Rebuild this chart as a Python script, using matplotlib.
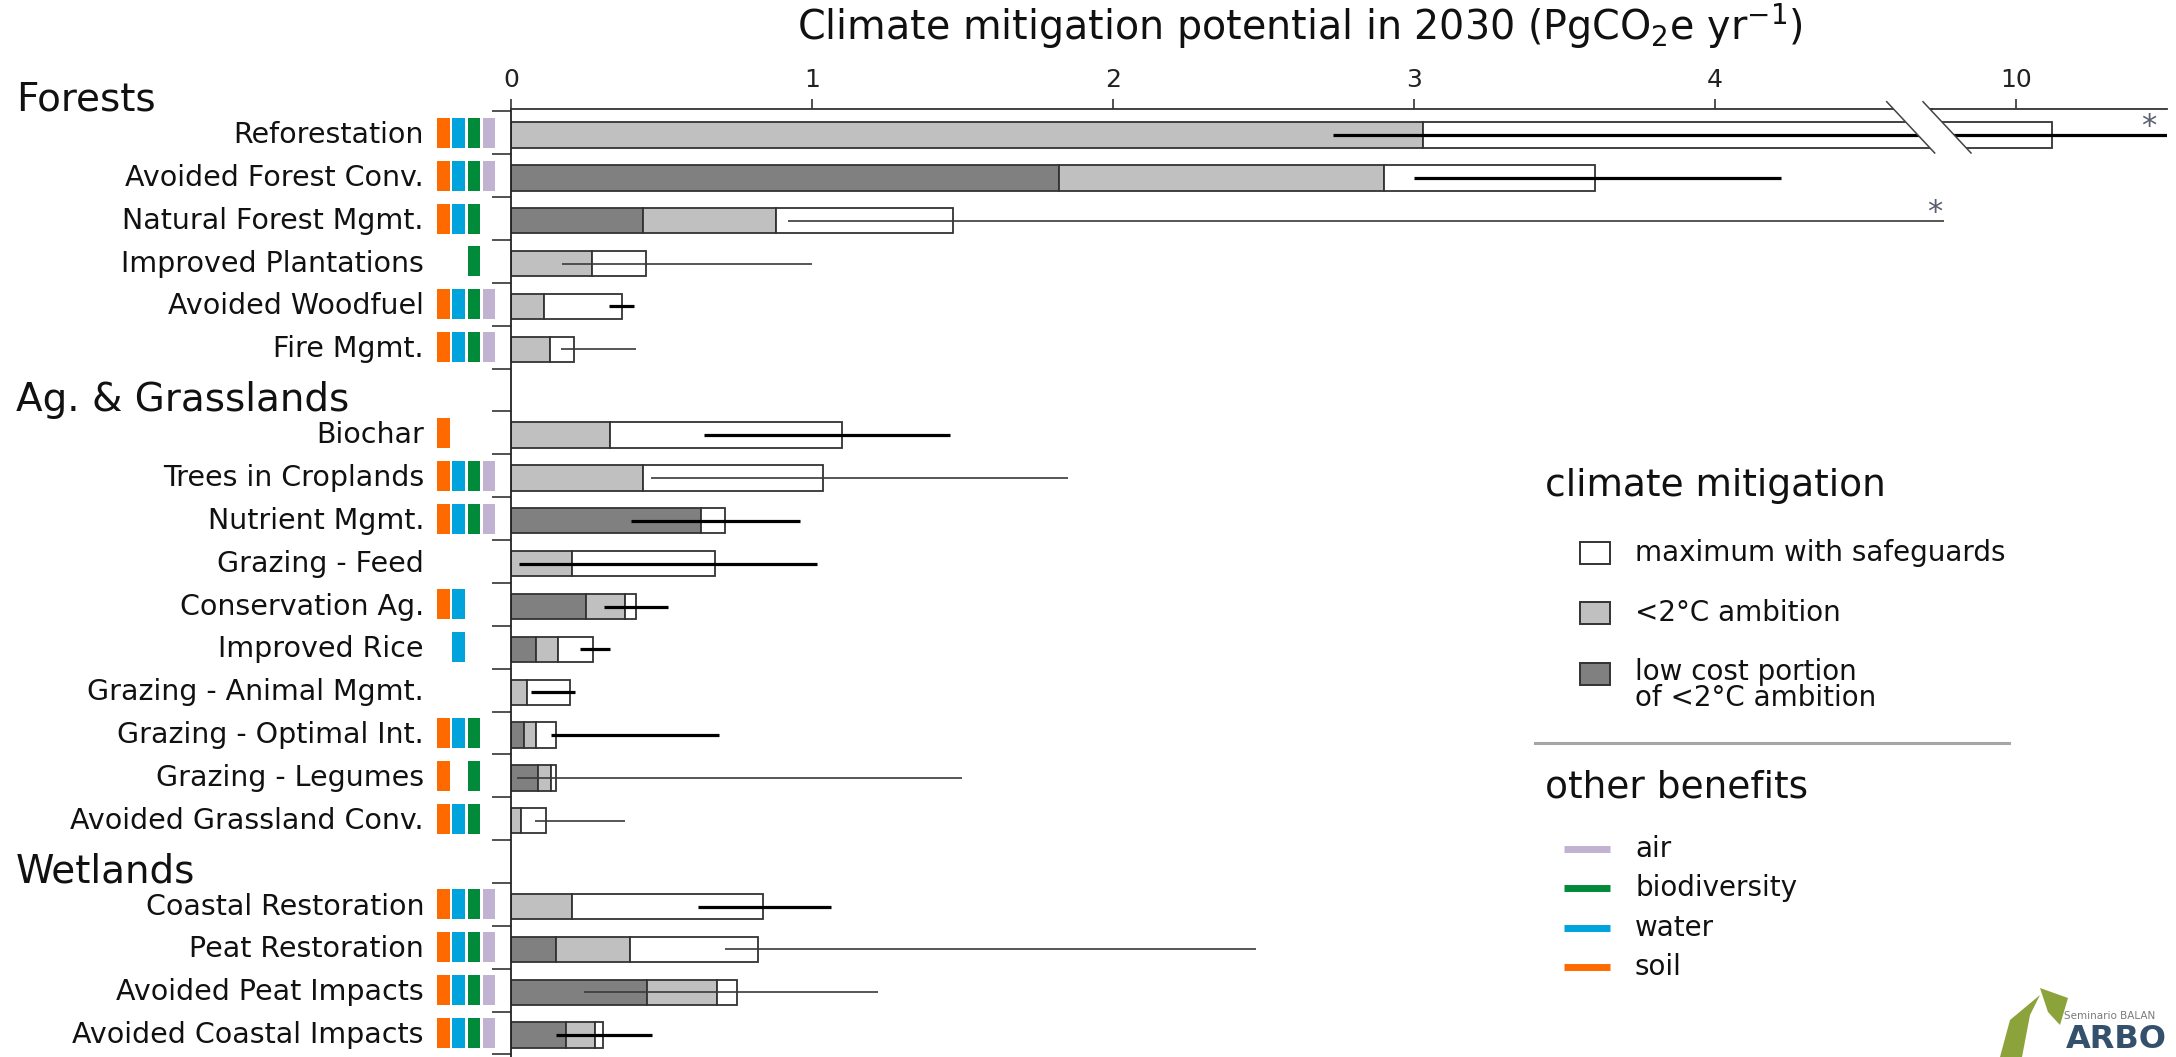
import matplotlib
matplotlib.use("Agg")
import matplotlib.pyplot as plt
import matplotlib.transforms as mtransforms
from matplotlib.patches import Rectangle, Polygon
from matplotlib.lines import Line2D

# the slide text is wide Arial; DejaVu Sans is closer in width
plt.rcParams['font.family'] = ['DejaVu Sans']
plt.rcParams['mathtext.fontset'] = 'dejavusans'

W, H = 2176, 1057

# 1) data
sections = ["Forests", "Ag. & Grasslands", "Wetlands"]
forests = ["Reforestation", "Avoided Forest Conv.", "Natural Forest Mgmt.",
           "Improved Plantations", "Avoided Woodfuel", "Fire Mgmt."]
ag = ["Biochar", "Trees in Croplands", "Nutrient Mgmt.", "Grazing - Feed",
      "Conservation Ag.", "Improved Rice", "Grazing - Animal Mgmt.",
      "Grazing - Optimal Int.", "Grazing - Legumes", "Avoided Grassland Conv."]
wetlands = ["Coastal Restoration", "Peat Restoration", "Avoided Peat Impacts",
            "Avoided Coastal Impacts"]

# PgCO2e / yr
low_cost = [0, 1.82, 0.44, 0, 0, 0,
            0, 0, 0.63, 0, 0.25, 0.082, 0, 0.042, 0.089, 0,
            0, 0.15, 0.453, 0.183]
ambition = [3.03, 2.90, 0.88, 0.27, 0.11, 0.128,
            0.33, 0.44, 0.63, 0.204, 0.379, 0.156, 0.053, 0.082, 0.133, 0.033,
            0.204, 0.394, 0.684, 0.279]
maximum = [10.12, 3.60, 1.47, 0.447, 0.37, 0.21,
           1.10, 1.035, 0.71, 0.677, 0.414, 0.272, 0.197, 0.15, 0.15, 0.116,
           0.838, 0.82, 0.751, 0.306]
err_lo = [2.73, 3.00, 0.92, 0.17, 0.325, 0.166,
          0.64, 0.465, 0.40, 0.025, 0.31, 0.229, 0.066, 0.133, 0.02, 0.079,
          0.62, 0.71, 0.243, 0.148]
err_hi = [11.0, 4.22, 4.76, 1.00, 0.41, 0.415,
          1.46, 1.85, 0.96, 1.015, 0.52, 0.328, 0.213, 0.69, 1.50, 0.38,
          1.063, 2.475, 1.22, 0.468]
# "e" = empirical range (thick), "x" = expert elicitation (thin)
err_kind = ["e", "e", "x", "x", "e", "x",
            "e", "x", "e", "e", "e", "e", "e", "e", "x", "x",
            "e", "x", "x", "e"]
# s=soil, w=water, b=biodiversity, a=air
benefits = ["swba", "swba", "swb", "b", "swba", "swba",
            "s", "swba", "swba", "", "sw", "w", "", "swb", "sb", "swb",
            "swba", "swba", "swba", "swba"]
off_scale = ["Reforestation", "Natural Forest Mgmt."]

ben_colors = {"s": "#FF6A00", "w": "#00A3DB", "b": "#008A3A", "a": "#C2B2D2"}
ben_names = [("a", "air"), ("b", "biodiversity"), ("w", "water"), ("s", "soil")]

# 2) row positions (one empty slot per section header)
labels, y_pos, head_y = [], [], []
pos = 0
for k, sec in enumerate([forests, ag, wetlands]):
    if k > 0:
        pos += 1
    head_y.append(pos - 1)
    for lab in sec:
        labels.append(lab)
        y_pos.append(pos)
        pos += 1

fig = plt.figure(figsize=(W / 100, H / 100), dpi=100)
pix = mtransforms.Affine2D().scale(1.0 / W, -1.0 / H).translate(0, 1) + fig.transFigure

ax = fig.add_axes([511 / W, 0, (1932 - 511) / W, (H - 109) / H])
ax2 = fig.add_axes([1930 / W, 0, (2167 - 1930) / W, (H - 109) / H])
ax.set_xlim(0, 4.721)
ax2.set_xlim(9.714, 10.5)
for a in (ax, ax2):
    a.set_ylim(21.51, -0.607)
    a.patch.set_alpha(0)
    a.xaxis.tick_top()
    a.tick_params(axis="x", direction="out", length=7.2, width=1.1, pad=5,
                  labelsize=18, colors="#222222")
    for s in ["bottom", "right", "left"]:
        a.spines[s].set_visible(False)
    a.spines["top"].set_linewidth(1.3)
    a.spines["top"].set_color("#333333")
ax.spines["left"].set_visible(True)
ax.spines["left"].set_linewidth(1.3)
ax.spines["left"].set_color("#222222")
ax.set_xticks([0, 1, 2, 3, 4])
ax2.set_xticks([10])
ax.set_yticks([i + 0.45 for i in range(-1, 22)])
ax.tick_params(axis="y", direction="out", length=13.7, width=1.1,
               labelleft=False, colors="#222222")
ax2.set_yticks([])

# 3) bars
bh = 0.59
for a in (ax, ax2):
    for i in range(len(labels)):
        y = y_pos[i]
        a.barh(y, low_cost[i], left=0, height=bh, color="#808080",
               edgecolor="#333333", linewidth=1.3, zorder=2)
        a.barh(y, ambition[i] - low_cost[i], left=low_cost[i], height=bh,
               color="#C0C0C0", edgecolor="#333333", linewidth=1.3, zorder=2)
        a.barh(y, maximum[i] - ambition[i], left=ambition[i], height=bh,
               color="white", edgecolor="#333333", linewidth=1.3, zorder=2)

# error bars
for i in range(len(labels)):
    y = y_pos[i]
    if err_kind[i] == "e":
        lw, col = 2.3, "black"
    else:
        lw, col = 1.2, "#3a3a3a"
    if err_hi[i] < 9:
        ax.plot([err_lo[i], err_hi[i]], [y, y], color=col, lw=lw,
                solid_capstyle="butt", zorder=3, clip_on=False)
    else:
        for a in (ax, ax2):
            a.plot([err_lo[i], err_hi[i]], [y, y], color=col, lw=lw,
                   solid_capstyle="butt", zorder=3)

# asterisks for ranges that run off the scale
for lab in off_scale:
    i = labels.index(lab)
    a = ax2 if err_hi[i] > 9 else ax
    xa = min(err_hi[i], 10.47)
    a.text(xa - 0.03, y_pos[i] - 0.2, "*", ha="center", va="center",
           fontsize=22, color="#5a5f70", clip_on=False)

# axis break
fig.add_artist(Polygon([(1886.7, 101.7), (1923, 101.7), (1970.7, 153), (1935, 153)],
                       closed=True, facecolor="white", edgecolor="none",
                       transform=pix, zorder=5))
for x0 in (1886.7, 1923):
    fig.add_artist(Line2D([x0, x0 + 48], [101.7, 153], color="#444444", lw=1.1,
                          transform=pix, zorder=6))

# 4) row labels, section headers, benefit boxes
bl = mtransforms.blended_transform_factory(fig.transFigure, ax.transData)
for i, lab in enumerate(labels):
    ax.text(424 / W, y_pos[i], lab, transform=bl, ha="right", va="center",
            fontsize=20.5, color="#111111")
    for k, key in enumerate("swba"):
        if key in benefits[i]:
            ax.add_patch(Rectangle(((437 + 15.3 * k) / W, y_pos[i] - 0.4), 12.5 / W, 0.7,
                                   transform=bl, facecolor=ben_colors[key],
                                   edgecolor="none", clip_on=False))
for k, sec in enumerate(sections):
    ax.text(16 / W, head_y[k] + 0.18, sec, transform=bl, ha="left", va="center",
            fontsize=28, color="#111111")

# title
fig.text(1300, 26, r"Climate mitigation potential in 2030 (PgCO$_2$e yr$^{-1}$)",
         transform=pix, ha="center", va="center", fontsize=28.5, color="#111111")

# 5) legend
fig.text(1545, 486, "climate mitigation", transform=pix, ha="left", va="center",
         fontsize=27, color="#111111")
leg_items = [("white", "maximum with safeguards", 553),
             ("#C0C0C0", "<2°C ambition", 613),
             ("#808080", "low cost portion\nof <2°C ambition", 685)]
for col, txt, yy in leg_items:
    yb = yy if "\n" not in txt else 674
    fig.add_artist(Rectangle((1580, yb - 11), 30, 22, transform=pix, facecolor=col,
                             edgecolor="#333333", lw=1.4))
    fig.text(1635, yy, txt, transform=pix, ha="left", va="center", fontsize=20,
             color="#111111", linespacing=0.95)
fig.add_artist(Line2D([1535, 2009], [743, 743], color="#A6A6A6", lw=2.2, transform=pix))
fig.text(1545, 788, "other benefits", transform=pix, ha="left", va="center",
         fontsize=27, color="#111111")
for k, (key, name) in enumerate(ben_names):
    yy = 849 + 39.3 * k
    fig.add_artist(Line2D([1564, 1610], [yy, yy], color=ben_colors[key], lw=5,
                          solid_capstyle="butt", transform=pix))
    fig.text(1635, yy, name, transform=pix, ha="left", va="center", fontsize=20,
             color="#111111")

# logo in the corner of the slide
fig.add_artist(Polygon([(2000, 1057), (2010, 1020), (2040, 995), (2030, 1015), (2022, 1057)],
                       closed=True, facecolor="#8BA33A", edgecolor="none", transform=pix))
fig.add_artist(Polygon([(2040, 988), (2068, 998), (2060, 1025), (2048, 1012)],
                       closed=True, facecolor="#8BA33A", edgecolor="none", transform=pix))
fig.text(2064, 1016, "Seminario BALAN", transform=pix, ha="left", va="center",
         fontsize=7.5, color="#7a7a7a")
fig.text(2066, 1055, "ARBO", transform=pix, ha="left", va="bottom", fontsize=23,
         fontweight="bold", color="#34506C")

plt.savefig("out.png", dpi=100)
